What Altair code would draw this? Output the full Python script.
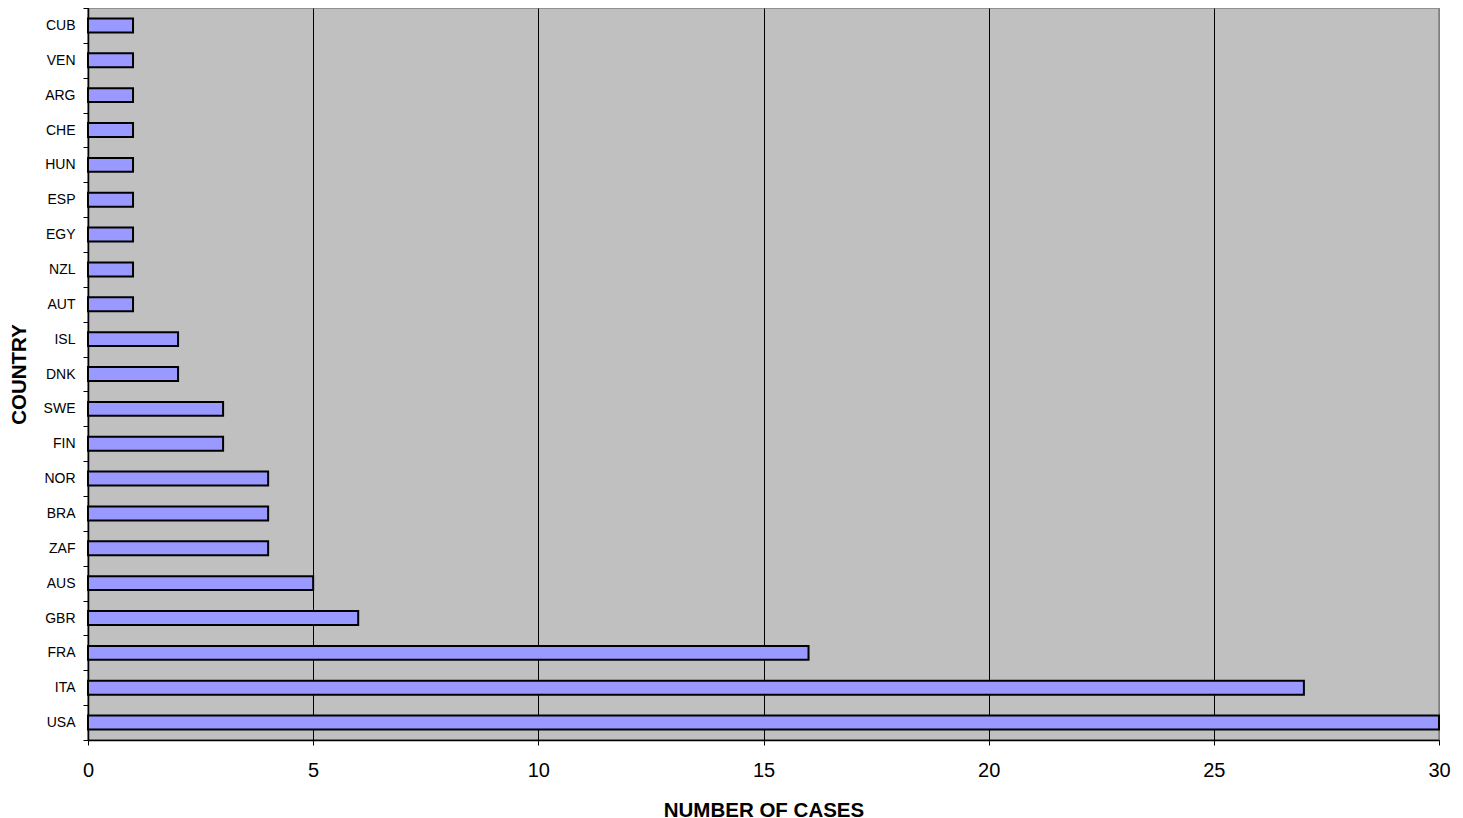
import altair as alt
import pandas as pd

countries = ["CUB", "VEN", "ARG", "CHE", "HUN", "ESP", "EGY", "NZL", "AUT", "ISL",
             "DNK", "SWE", "FIN", "NOR", "BRA", "ZAF", "AUS", "GBR", "FRA", "ITA", "USA"]
cases = [1, 1, 1, 1, 1, 1, 1, 1, 1, 2, 2, 3, 3, 4, 4, 4, 5, 6, 16, 27, 30]
x_ticks = [0, 5, 10, 15, 20, 25, 30]

df = pd.DataFrame({"country": countries, "cases": cases})

FONT = "Liberation Sans"

bars = alt.Chart(df).mark_bar(
    fill="#9999FF", stroke="black", strokeWidth=2, height={"band": 0.4}
).encode(
    x=alt.X("cases:Q",
            scale=alt.Scale(domain=[0, 30], nice=False, zero=True),
            axis=alt.Axis(title="NUMBER OF CASES", values=x_ticks,
                          grid=True,
                          gridColor={"condition": {"test": "datum.value === 30", "value": "#808080"},
                                     "value": "black"},
                          gridWidth=1, gridOpacity=1,
                          domainColor="black", domainWidth=1.5,
                          tickColor="black", tickSize=5, labelFontSize=20,
                          labelFlush=False,
                          labelPadding=15, labelFont=FONT, labelColor="black",
                          titleFont=FONT, titleFontSize=20.5, titleFontWeight="bold",
                          titleColor="black", titlePadding=20)),
    y=alt.Y("country:N", sort=countries,
            scale=alt.Scale(paddingInner=0, paddingOuter=0),
            axis=alt.Axis(title="COUNTRY", tickBand="extent",
                          domainColor="black", domainWidth=1.5,
                          tickColor="black", tickSize=5, labelFontSize=14,
                          labelPadding=8, labelFont=FONT, labelColor="black",
                          titleFont=FONT, titleFontSize=20.5, titleFontWeight="bold",
                          titleColor="black", titlePadding=14)),
)

chart = bars.properties(
    width=1351, height=732,
    autosize=alt.AutoSizeParams(type="none"),
    padding={"left": 80, "top": 0, "right": 16, "bottom": 100},
).configure_view(
    fill="#C0C0C0", stroke="#808080", strokeWidth=1.5
)

chart.save("out.html", embed_options={"renderer": "svg", "actions": False})
